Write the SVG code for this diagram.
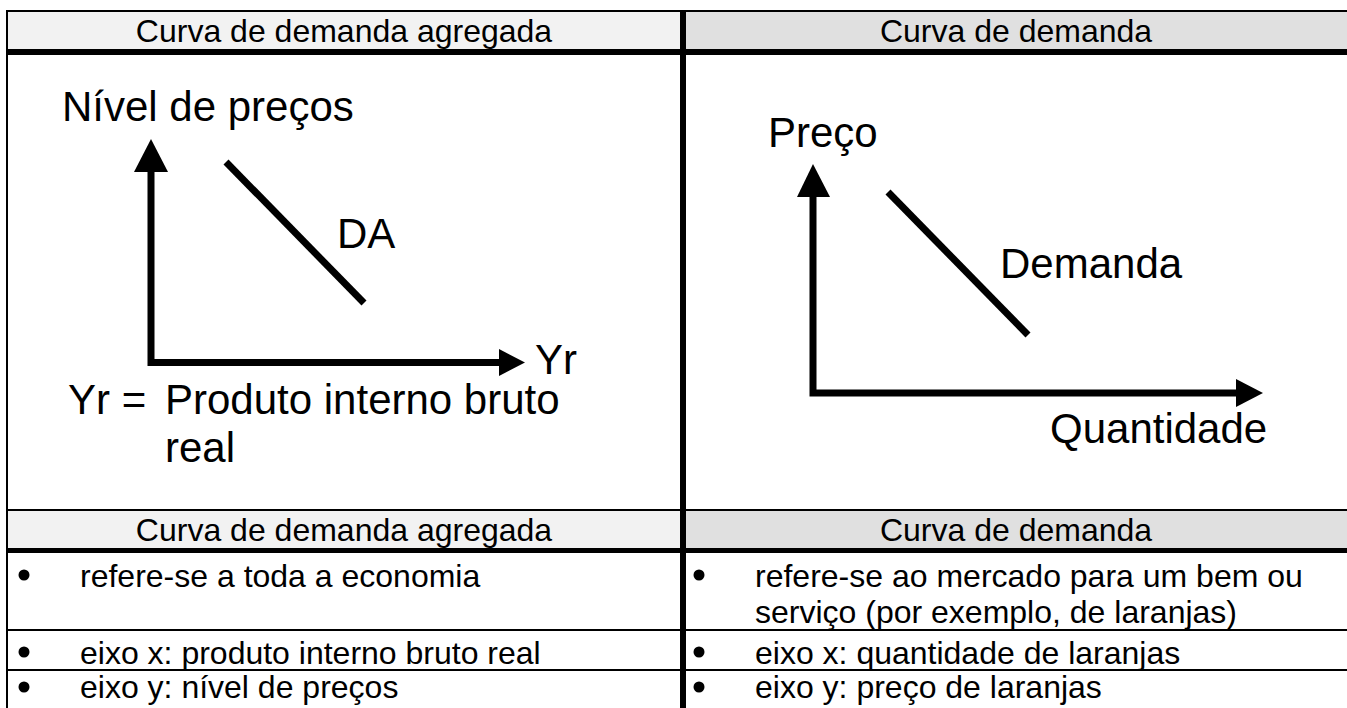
<svg xmlns="http://www.w3.org/2000/svg" width="1347" height="708" viewBox="0 0 1347 708">
<style>
.t{font-family:"Liberation Sans",Arial,sans-serif;fill:#000}
.big{font-size:42px}
.tb{font-size:32px}
.c{text-anchor:middle}
.ln{stroke:#000;fill:none}
.ax{stroke:#000;stroke-width:7;fill:none;stroke-linejoin:miter}
.ar{fill:#000}
</style>
<defs>
<circle id="bullet" r="5.5" fill="#000"/>
</defs>
<rect width="1347" height="708" fill="#fff"/>
<g id="table">
<rect x="8" y="12" width="672" height="37" fill="#f2f2f2"/>
<rect x="686" y="12" width="661" height="37" fill="#e0e0e0"/>
<rect x="8" y="511" width="672" height="37" fill="#f2f2f2"/>
<rect x="686" y="511" width="661" height="37" fill="#e0e0e0"/>
<line class="ln" x1="6" y1="11" x2="1347" y2="11" stroke-width="2"/>
<line class="ln" x1="7" y1="10" x2="7" y2="708" stroke-width="2"/>
<line class="ln" x1="6" y1="52" x2="1347" y2="52" stroke-width="6"/>
<line class="ln" x1="6" y1="510" x2="1347" y2="510" stroke-width="2"/>
<line class="ln" x1="6" y1="550.5" x2="1347" y2="550.5" stroke-width="5"/>
<line class="ln" x1="6" y1="630" x2="1347" y2="630" stroke-width="2"/>
<line class="ln" x1="6" y1="670" x2="1347" y2="670" stroke-width="2"/>
<line class="ln" x1="683" y1="10" x2="683" y2="708" stroke-width="6"/>
</g>
<g id="headers">
<text class="t tb c" x="344" y="42">Curva de demanda agregada</text>
<text class="t tb c" x="1016" y="42">Curva de demanda</text>
<text class="t tb c" x="344" y="541">Curva de demanda agregada</text>
<text class="t tb c" x="1016" y="541">Curva de demanda</text>
</g>
<g id="graph-left">
<path class="ax" d="M151,170 V362.5 H501"/>
<polygon class="ar" points="151,139 168,172 134,172"/>
<polygon class="ar" points="525,362.5 499,349 499,376"/>
<line class="ln" x1="226" y1="162" x2="364" y2="303" stroke-width="7"/>
<text class="t big" x="62" y="121">Nível de preços</text>
<text class="t big" x="337" y="248">DA</text>
<text class="t big" x="535" y="374">Yr</text>
<text class="t big" x="68" y="414">Yr =</text>
<text class="t big" x="165" y="414">Produto interno bruto</text>
<text class="t big" x="165" y="462">real</text>
</g>
<g id="graph-right">
<path class="ax" d="M813,195 V393 H1237"/>
<polygon class="ar" points="813,164 830,197 797,197"/>
<polygon class="ar" points="1263,393 1236,379 1236,407"/>
<line class="ln" x1="888" y1="192" x2="1028" y2="335" stroke-width="7"/>
<text class="t big" x="768" y="147">Preço</text>
<text class="t big" x="1000" y="278">Demanda</text>
<text class="t big" x="1050" y="443">Quantidade</text>
</g>
<g id="rows-left">
<use href="#bullet" x="24" y="575"/>
<text class="t tb" x="80" y="587">refere-se a toda a economia</text>
<use href="#bullet" x="24" y="652"/>
<text class="t tb" x="80" y="664">eixo x: produto interno bruto real</text>
<use href="#bullet" x="24" y="687"/>
<text class="t tb" x="80" y="698">eixo y: nível de preços</text>
</g>
<g id="rows-right">
<use href="#bullet" x="699" y="575"/>
<text class="t tb" x="755" y="587">refere-se ao mercado para um bem ou</text>
<text class="t tb" x="755" y="623">serviço (por exemplo, de laranjas)</text>
<use href="#bullet" x="699" y="652"/>
<text class="t tb" x="755" y="664">eixo x: quantidade de laranjas</text>
<use href="#bullet" x="699" y="687"/>
<text class="t tb" x="755" y="698">eixo y: preço de laranjas</text>
</g>
</svg>
